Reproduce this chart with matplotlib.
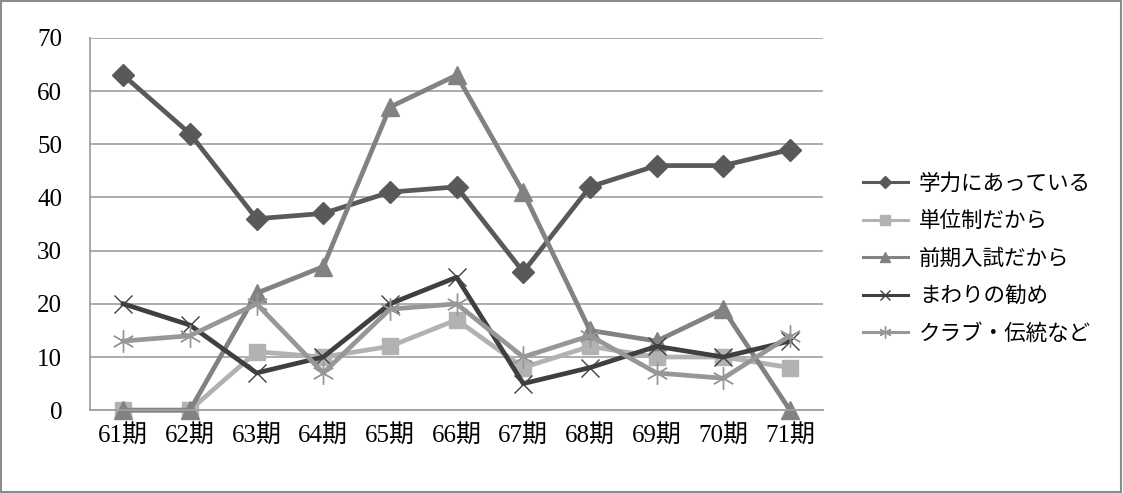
import matplotlib.pyplot as plt
from matplotlib.patches import Rectangle

plt.rcParams['font.family'] = ['Liberation Serif', 'Noto Sans CJK JP', 'DejaVu Sans']

# Cohorts on the x axis and reasons given for choosing the school
periods = ["61期", "62期", "63期", "64期", "65期", "66期", "67期", "68期", "69期", "70期", "71期"]
gakuryoku = [63, 52, 36, 37, 41, 42, 26, 42, 46, 46, 49]
tanisei = [0, 0, 11, 10, 12, 17, 8, 12, 10, 10, 8]
zenki = [0, 0, 22, 27, 57, 63, 41, 15, 13, 19, 0]
mawari = [20, 16, 7, 10, 20, 25, 5, 8, 12, 10, 13]
club = [13, 14, 20, 7, 19, 20, 10, 14, 7, 6, 14]

labels = ["学力にあっている", "単位制だから", "前期入試だから", "まわりの勧め", "クラブ・伝統など"]

series = [
    (gakuryoku, "#595959", "D", 11, dict()),
    (tanisei, "#b2b2b2", "s", 12, dict()),
    (zenki, "#828282", "^", 13, dict()),
    (mawari, "#3f3f3f", "x", 13, dict(markeredgewidth=1.0)),
    (club, "#979797", (6, 2, 0), 16, dict(markeredgewidth=1.0)),
]

fig = plt.figure(figsize=(11.23, 4.93), dpi=100)
ax = fig.add_axes([0.0801, 0.168, 0.653, 0.755])

x = list(range(len(periods)))
handles = []
for (vals, color, marker, ms, extra), label in zip(series, labels):
    line, = ax.plot(x, vals, color=color, lw=3.4, marker=marker, markersize=ms,
                    markerfacecolor=color, markeredgecolor=color, label=label,
                    clip_on=False, **extra)
    handles.append(line)

ax.set_xlim(-0.5, 10.5)
ax.set_ylim(0, 70)
ax.set_yticks(range(0, 71, 10))
ax.set_xticks(x)
ax.set_xticklabels(periods)
ax.tick_params(axis="both", length=0, labelsize=18, colors="#000000")
ax.tick_params(axis="y", pad=20)
ax.tick_params(axis="x", pad=10)

ax.grid(axis="y", color="#a6a6a6", lw=1.3)
ax.set_axisbelow(True)
for side in ["top", "right"]:
    ax.spines[side].set_visible(False)
ax.spines["left"].set_color("#a0a0a0")
ax.spines["bottom"].set_color("#a0a0a0")
ax.spines["left"].set_linewidth(1.3)
ax.spines["bottom"].set_linewidth(1.3)

leg = fig.legend(handles=handles, loc="center left", bbox_to_anchor=(0.751, 0.475),
                 frameon=False, handlelength=2.1, handletextpad=0.5,
                 labelspacing=0.72, markerscale=0.55,
                 prop={"family": ["Noto Sans CJK JP", "DejaVu Sans"], "size": 15.5})
for h in leg.get_lines():
    h.set_linewidth(2.2)

# Chart border
fig.patches.append(Rectangle((0.001, 0.002), 0.997, 0.995, transform=fig.transFigure,
                             fill=False, edgecolor="#8c8c8c", lw=1.5))

fig.savefig("out.png", dpi=100)
